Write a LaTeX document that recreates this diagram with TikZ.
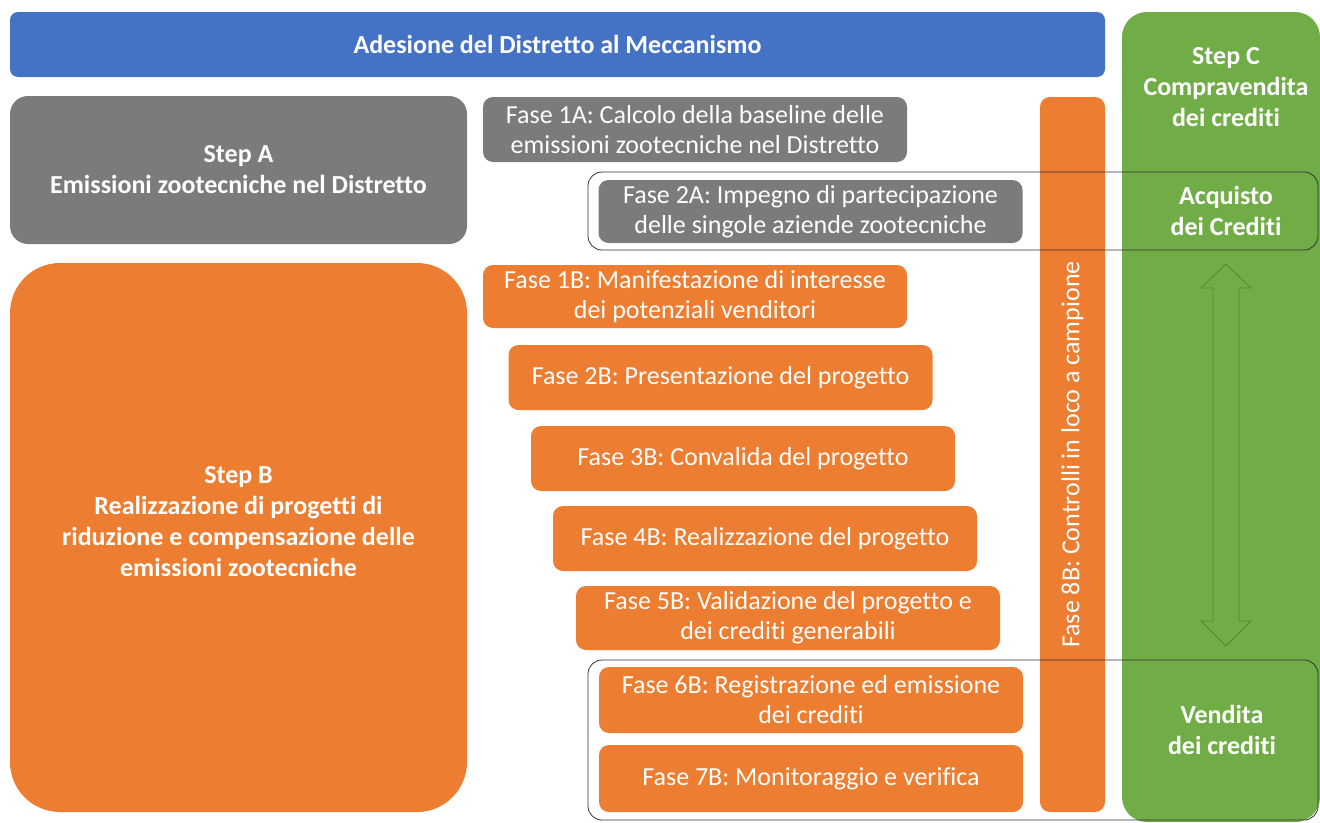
\documentclass[tikz,border=0pt]{standalone}
\usepackage{fontspec}
\setmainfont{Carlito}[Ligatures=NoCommon]
\usepackage{xcolor}
\definecolor{azul}{HTML}{4472C4}
\definecolor{gris}{HTML}{7B7B7B}
\definecolor{naranja}{HTML}{ED7D31}
\definecolor{verde}{HTML}{70AD47}
\definecolor{verdeosc}{HTML}{4E8A2C}

\begin{document}
\begin{tikzpicture}[x=1pt,y=-1pt,
		caja/.style={inner sep=0pt, align=center, text=white,
			font=\fontsize{26}{30}\selectfont, rounded corners=10pt},
		fase/.style={caja, minimum width=424pt, minimum height=65pt},
		titulo/.style={text=white, align=center, font=\bfseries\fontsize{26}{31}\selectfont},
		marco/.style={draw=black!80, line width=0.8pt, rounded corners=14pt, inner sep=0pt}]
		\useasboundingbox (0,0) rectangle (1320,822);
		\def\ax{1226}
		% barra superior y columna verde
		\node[caja, fill=azul, rounded corners=8pt, minimum width=1095pt, minimum height=65pt,
			font=\bfseries\fontsize{26}{30}\selectfont] (adesione) at (557.5,44.5)
			{Adesione del Distretto al Meccanismo};
		\node[caja, fill=verde, rounded corners=25pt, minimum width=198pt, minimum height=810pt] (stepc) at (1221,417) {};
		\node[titulo] (compra) at (\ax,87) {Step C\\Compravendita\\dei crediti};
		% pasos A y B
		\node[caja, fill=gris, rounded corners=18pt, minimum width=457pt, minimum height=148pt,
			font=\bfseries\fontsize{26}{31}\selectfont] (stepa) at (238.5,170)
			{Step A\\Emissioni zootecniche nel Distretto};
		\node[caja, fill=naranja, rounded corners=50pt, minimum width=457pt, minimum height=549pt] (stepb) at (238.5,537.5) {};
		\node[titulo] (stepbtxt) at (238.5,521.5)
			{Step B\\Realizzazione di progetti di\\riduzione e compensazione delle\\emissioni zootecniche};
		% fasi
		\node[fase, fill=gris] (f1a) at (695,129.5) {Fase 1A: Calcolo della baseline delle\\emissioni zootecniche nel Distretto};
		\node[fase, fill=gris, minimum height=63pt] (f2a) at (810.5,211.5) {Fase 2A: Impegno di partecipazione\\delle singole aziende zootecniche};
		\node[fase, fill=naranja, minimum height=63pt] (f1b) at (695,296.5) {Fase 1B: Manifestazione di interesse\\dei potenziali venditori};
		\node[fase, fill=naranja] (f2b) at (720.5,377.5) {Fase 2B: Presentazione del progetto};
		\node[fase, fill=naranja] (f3b) at (743,458.5) {Fase 3B: Convalida del progetto};
		\node[fase, fill=naranja] (f4b) at (765,538.5) {Fase 4B: Realizzazione del progetto};
		\node[fase, fill=naranja, minimum height=64pt] (f5b) at (788,618) {Fase 5B: Validazione del progetto e\\dei crediti generabili};
		\node[fase, fill=naranja, minimum height=66pt] (f6b) at (811,700) {Fase 6B: Registrazione ed emissione\\dei crediti};
		\node[fase, fill=naranja, minimum height=67pt] (f7b) at (811,778.5) {Fase 7B: Monitoraggio e verifica};
		\node[caja, fill=naranja, rotate=90, minimum width=715pt, minimum height=65pt] (f8b) at (1072.5,454.5)
			{Fase 8B: Controlli in loco a campione};
		% compravendita
		\node[titulo] (acquisto) at (\ax,211) {Acquisto\\dei Crediti};
		\node[titulo] (vendita) at (1222,730) {Vendita\\dei crediti};
		\draw[verdeosc, line width=0.8pt, line join=miter] (\ax,264) -- (\ax+25,288) -- (\ax+13,288)
			-- (\ax+13,621) -- (\ax+25,621) -- (\ax,646) -- (\ax-25,621) -- (\ax-13,621)
			-- (\ax-13,288) -- (\ax-25,288) -- cycle; % flecha doble
		% marcos
		\node[marco, minimum width=730pt, minimum height=78pt] (marcoa) at (953,211) {};
		\node[marco, minimum width=730pt, minimum height=160pt] (marcob) at (953,740) {};
		\end{tikzpicture}
\end{document}
